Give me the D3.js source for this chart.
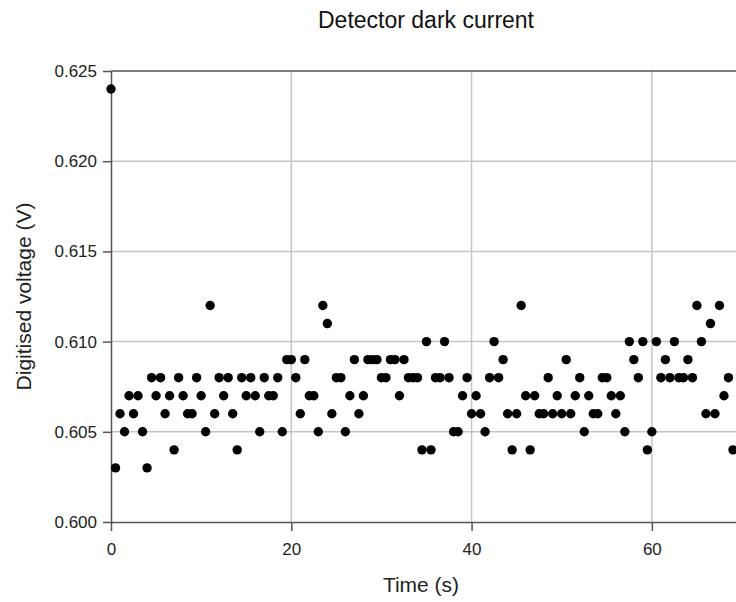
<!DOCTYPE html>
<html>
<head>
<meta charset="utf-8">
<script src="https://cdn.jsdelivr.net/npm/d3@7"></script>
<style>
  html, body { margin: 0; padding: 0; background: #fff; }
  svg { display: block; font-family: 'Liberation Sans', Arial, sans-serif; }
</style>
</head>
<body>
<div id="chart"></div>
<script>
const title = 'Detector dark current';
const xLabel = 'Time (s)';
const yLabel = 'Digitised voltage (V)';

const xTicks = [0, 20, 40, 60];
const yTicks = [0.600, 0.605, 0.610, 0.615, 0.620, 0.625];

// sample times (s)
const times = [
  0, 0.5, 1, 1.5, 2, 2.5, 3, 3.5, 4, 4.5, 5, 5.5, 6, 6.5, 7, 7.5, 8, 8.5, 9, 9.5,
  10, 10.5, 11, 11.5, 12, 12.5, 13, 13.5, 14, 14.5, 15, 15.5, 16, 16.5, 17, 17.5, 18, 18.5, 19, 19.5,
  20, 20.5, 21, 21.5, 22, 22.5, 23, 23.5, 24, 24.5, 25, 25.5, 26, 26.5, 27, 27.5, 28, 28.5, 29, 29.5,
  30, 30.5, 31, 31.5, 32, 32.5, 33, 33.5, 34, 34.5, 35, 35.5, 36, 36.5, 37, 37.5, 38, 38.5, 39, 39.5,
  40, 40.5, 41, 41.5, 42, 42.5, 43, 43.5, 44, 44.5, 45, 45.5, 46, 46.5, 47, 47.5, 48, 48.5, 49, 49.5,
  50, 50.5, 51, 51.5, 52, 52.5, 53, 53.5, 54, 54.5, 55, 55.5, 56, 56.5, 57, 57.5, 58, 58.5, 59, 59.5,
  60, 60.5, 61, 61.5, 62, 62.5, 63, 63.5, 64, 64.5, 65, 65.5, 66, 66.5, 67, 67.5, 68, 68.5, 69
];

// digitised voltage (V)
const volts = [
  0.624, 0.603, 0.606, 0.605, 0.607, 0.606, 0.607, 0.605, 0.603, 0.608,
  0.607, 0.608, 0.606, 0.607, 0.604, 0.608, 0.607, 0.606, 0.606, 0.608,
  0.607, 0.605, 0.612, 0.606, 0.608, 0.607, 0.608, 0.606, 0.604, 0.608,
  0.607, 0.608, 0.607, 0.605, 0.608, 0.607, 0.607, 0.608, 0.605, 0.609,
  0.609, 0.608, 0.606, 0.609, 0.607, 0.607, 0.605, 0.612, 0.611, 0.606,
  0.608, 0.608, 0.605, 0.607, 0.609, 0.606, 0.607, 0.609, 0.609, 0.609,
  0.608, 0.608, 0.609, 0.609, 0.607, 0.609, 0.608, 0.608, 0.608, 0.604,
  0.610, 0.604, 0.608, 0.608, 0.610, 0.608, 0.605, 0.605, 0.607, 0.608,
  0.606, 0.607, 0.606, 0.605, 0.608, 0.610, 0.608, 0.609, 0.606, 0.604,
  0.606, 0.612, 0.607, 0.604, 0.607, 0.606, 0.606, 0.608, 0.606, 0.607,
  0.606, 0.609, 0.606, 0.607, 0.608, 0.605, 0.607, 0.606, 0.606, 0.608,
  0.608, 0.607, 0.606, 0.607, 0.605, 0.610, 0.609, 0.608, 0.610, 0.604,
  0.605, 0.610, 0.608, 0.609, 0.608, 0.610, 0.608, 0.608, 0.609, 0.608,
  0.612, 0.610, 0.606, 0.611, 0.606, 0.612, 0.607, 0.608, 0.604
];

const points = times.map((t, i) => ({ t, v: volts[i] }));

const width = 736;
const height = 602;
const plot = { left: 111, top: 71, bottom: 522, right: 742 };

const svg = d3
  .select('#chart')
  .append('svg')
  .attr('width', width)
  .attr('height', height);

const x = d3.scaleLinear().domain([0, 70]).range([plot.left, plot.right]);
const y = d3.scaleLinear().domain([0.6, 0.625]).range([plot.bottom, plot.top]);

// gridlines
svg
  .append('g')
  .selectAll('line')
  .data(xTicks.filter(d => d > 0))
  .join('line')
  .attr('x1', d => x(d))
  .attr('x2', d => x(d))
  .attr('y1', plot.top)
  .attr('y2', plot.bottom)
  .style('stroke', '#c6c6c0')
  .style('stroke-width', 1.5);

svg
  .append('g')
  .selectAll('line')
  .data(yTicks.slice(1, -1))
  .join('line')
  .attr('x1', plot.left)
  .attr('x2', plot.right)
  .attr('y1', d => y(d))
  .attr('y2', d => y(d))
  .style('stroke', '#c6c6c0')
  .style('stroke-width', 1.5);

// top border of the plot area
svg
  .append('line')
  .attr('x1', plot.left)
  .attr('x2', plot.right)
  .attr('y1', plot.top)
  .attr('y2', plot.top)
  .style('stroke', '#555')
  .style('stroke-width', 1.5);

const styleAxis = g => {
  g.select('.domain').style('stroke', '#555').style('stroke-width', 1.5);
  g.selectAll('.tick line').style('stroke', '#555').style('stroke-width', 1.5);
  g.selectAll('.tick text')
    .style('font-size', '17px')
    .style('fill', '#222')
    .style('font-family', "'Liberation Sans', Arial, sans-serif");
};

svg
  .append('g')
  .attr('transform', `translate(0, ${plot.bottom})`)
  .call(
    d3
      .axisBottom(x)
      .tickValues(xTicks)
      .tickSize(9)
      .tickSizeOuter(0)
      .tickPadding(12)
      .tickFormat(d3.format('d'))
  )
  .call(styleAxis);

svg
  .append('g')
  .attr('transform', `translate(${plot.left}, 0)`)
  .call(
    d3
      .axisLeft(y)
      .tickValues(yTicks)
      .tickSize(8)
      .tickSizeOuter(0)
      .tickPadding(6)
      .tickFormat(d3.format('.3f'))
  )
  .call(styleAxis);

// markers
svg
  .append('g')
  .selectAll('circle')
  .data(points)
  .join('circle')
  .attr('cx', d => x(d.t))
  .attr('cy', d => y(d.v))
  .attr('r', 4.7)
  .style('fill', '#000');

// texts
svg
  .append('text')
  .attr('x', 426)
  .attr('y', 28)
  .attr('text-anchor', 'middle')
  .style('font-size', '23px')
  .style('fill', '#111')
  .text(title);

svg
  .append('text')
  .attr('x', 421)
  .attr('y', 592)
  .attr('text-anchor', 'middle')
  .style('font-size', '21px')
  .style('fill', '#222')
  .text(xLabel);

svg
  .append('text')
  .attr('transform', `translate(31, ${(plot.top + plot.bottom) / 2}) rotate(-90)`)
  .attr('text-anchor', 'middle')
  .style('font-size', '21px')
  .style('fill', '#222')
  .text(yLabel);
</script>
</body>
</html>
